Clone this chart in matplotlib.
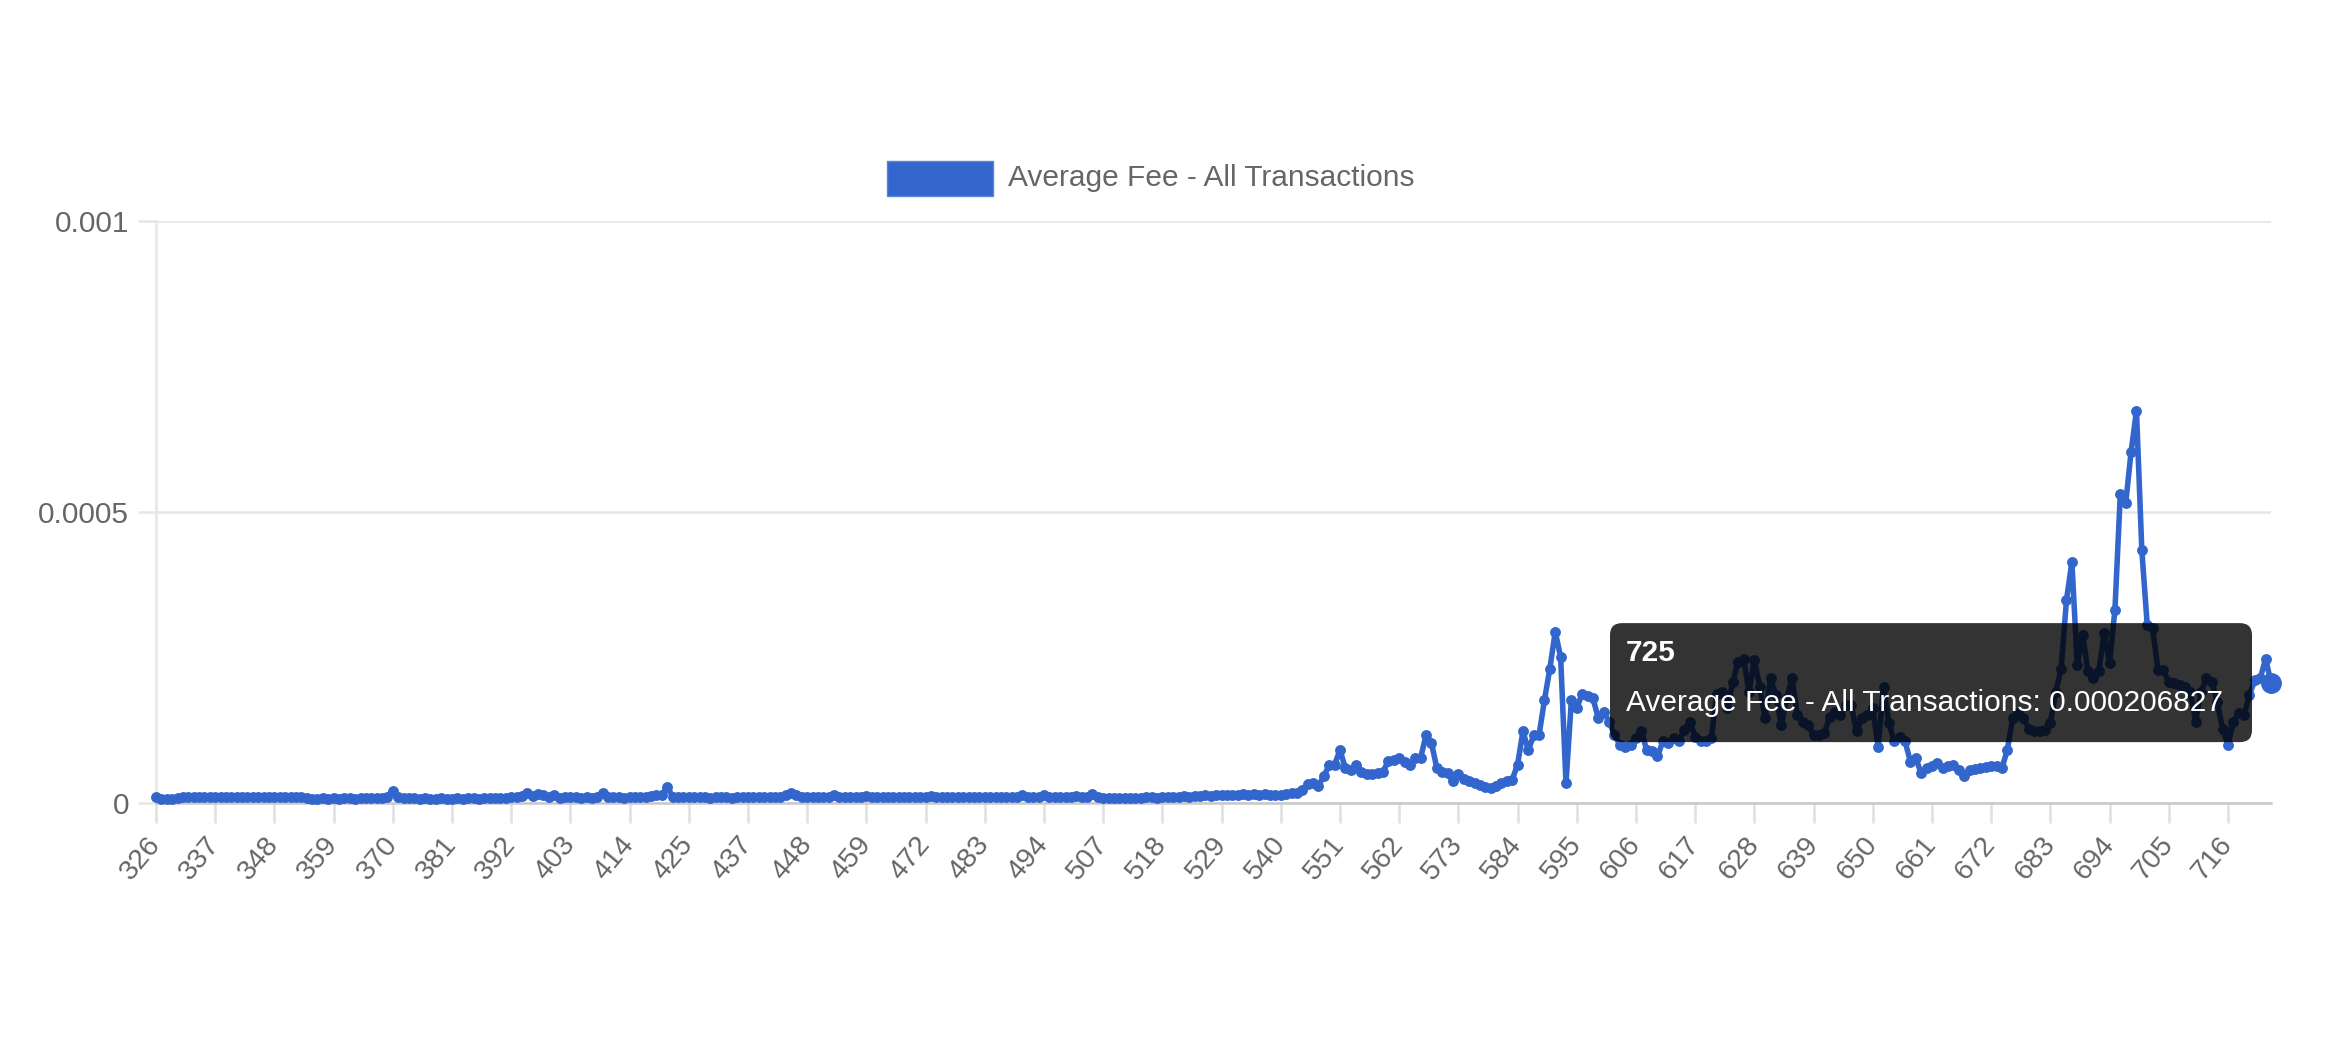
import numpy as np
import matplotlib.pyplot as plt
from matplotlib.patches import FancyBboxPatch, Rectangle
from matplotlib.transforms import IdentityTransform

plt.rcParams['font.family'] = ['Liberation Sans', 'DejaVu Sans']

# block labels (x 1000) - a few heights are absent from the series
missing = [430, 463, 468, 498, 503, 720]
blocks = [b for b in range(326, 726) if b not in missing]

# average fee, in units of 1e-6
fee_e6 = [
    11, 7, 7, 7, 8, 10, 10, 11, 10, 10, 10, 11, 10, 10, 10, 11, 10, 10, 10, 11,
    10, 10, 11, 10, 10, 11, 10, 10, 8, 7, 7, 8, 7, 8, 7, 8, 8, 7, 8, 8,
    8, 8, 9, 10, 21, 11, 9, 8, 8, 7, 8, 7, 7, 8, 7, 7, 8, 7, 8, 8,
    7, 8, 8, 8, 9, 9, 10, 11, 12, 17, 12, 15, 14, 11, 13, 9, 11, 10, 10, 9,
    10, 9, 10, 18, 10, 10, 11, 9, 10, 10, 11, 10, 12, 13, 14, 28, 11, 10, 10, 10,
    10, 10, 10, 9, 10, 10, 10, 9, 10, 10, 10, 10, 10, 10, 10, 10, 11, 14, 17, 14,
    11, 10, 10, 10, 10, 11, 14, 10, 10, 10, 10, 10, 12, 10, 10, 10, 10, 10, 10, 10,
    10, 10, 10, 11, 12, 10, 10, 10, 10, 10, 10, 10, 10, 10, 10, 10, 10, 11, 10, 10,
    11, 14, 10, 10, 11, 13, 10, 10, 10, 11, 10, 12, 10, 11, 16, 10, 9, 9, 9, 9,
    9, 9, 9, 9, 10, 10, 9, 10, 10, 10, 11, 12, 11, 12, 12, 14, 12, 13, 14, 13,
    14, 14, 15, 14, 16, 14, 15, 14, 13, 14, 15, 18, 17, 22, 33, 35, 30, 46, 65, 66,
    91, 60, 57, 65, 54, 49, 50, 51, 53, 73, 74, 77, 71, 65, 77, 78, 117, 103, 60, 54,
    51, 37, 49, 42, 37, 34, 31, 27, 26, 30, 34, 37, 40, 66, 123, 91, 116, 117, 177, 231,
    294, 251, 34, 177, 163, 188, 183, 180, 146, 157, 140, 117, 100, 97, 100, 111, 123, 91, 89, 80,
    106, 103, 111, 106, 126, 140, 114, 106, 106, 111, 188, 191, 163, 208, 243, 248, 191, 245, 200, 146,
    214, 186, 134, 180, 214, 151, 140, 134, 117, 117, 120, 148, 157, 151, 168, 168, 123, 146, 151, 163,
    97, 200, 137, 106, 114, 106, 71, 77, 51, 60, 63, 69, 60, 63, 66, 57, 46, 57, 59, 60,
    62, 63, 63, 60, 91, 146, 154, 146, 128, 123, 124, 126, 137, 191, 230, 349, 414, 237, 289, 226,
    214, 226, 292, 240, 332, 531, 515, 603, 674, 434, 306, 300, 229, 228, 208, 206, 203, 200, 191, 140,
    191, 214, 208, 174, 128, 100, 140, 154, 151, 186, 211, 214, 248, 206.827,
]
fees = np.array(fee_e6) * 1e-6
series_name = 'Average Fee - All Transactions'

blue = '#3366CC'
grey_txt = '#666666'
W, H = 2334, 1053

fig = plt.figure(figsize=(W / 100, H / 100), dpi=100)
ax = fig.add_axes([156 / W, 1 - 803 / H, (2271 - 156) / W, (803 - 221) / H])

x = np.arange(len(blocks))
ax.plot(x, fees, color=blue, lw=4, marker='o', ms=6.8, mfc=blue, mec=blue,
        zorder=3, clip_on=False)
# hovered point
ax.plot(x[-1], fees[-1], 'o', ms=14, color=blue, zorder=4, clip_on=False)

ax.set_xlim(0, len(blocks) - 1)
ax.set_ylim(0, 0.001)
ax.set_yticks([0, 0.0005, 0.001])
ax.set_yticklabels(['0', '0.0005', '0.001'])
tick_idx = x[::11]
ax.set_xticks(tick_idx)
ax.set_xticklabels([str(blocks[i]) for i in tick_idx])

ax.yaxis.grid(True, color='#e6e6e6', lw=1.8, zorder=0)
ax.set_axisbelow(True)
for s in ['top', 'right']:
    ax.spines[s].set_visible(False)
ax.spines['left'].set_color('#e6e6e6')
ax.spines['left'].set_linewidth(1.8)
ax.spines['bottom'].set_color('#c8c8c8')
ax.spines['bottom'].set_linewidth(1.8)

ax.tick_params(axis='y', length=13, width=1.8, color='#e6e6e6',
               labelcolor=grey_txt, labelsize=21.5, pad=6.5)
ax.tick_params(axis='x', length=14.5, width=1.8, color='#e0e0e0',
               labelcolor=grey_txt, labelsize=20.5, pad=12)
for lab in ax.get_xticklabels():
    lab.set_rotation(50)
    lab.set_ha('right')
    lab.set_va('center')
    lab.set_rotation_mode('anchor')

# legend
fig.add_artist(Rectangle((887, H - 196), 106, 35, transform=IdentityTransform(),
                         facecolor=blue, edgecolor='#5a85d6', lw=1))
fig.text(1008, H - 178, series_name, transform=IdentityTransform(),
         ha='left', va='center', color=grey_txt, fontsize=21.5)

# tooltip for the last point
px, py = ax.transData.transform((x[-1], fees[-1]))
bw, bh = 642, 119
left = px - 19 - bw
bottom = py - bh / 2
fig.add_artist(FancyBboxPatch((left, bottom), bw, bh,
                              boxstyle='round,pad=0,rounding_size=12',
                              transform=IdentityTransform(), facecolor='black',
                              edgecolor='none', alpha=0.8, zorder=10))
fig.text(left + 16, bottom + bh - 30, str(blocks[-1]), transform=IdentityTransform(),
         ha='left', va='center', color='white', fontsize=21.5, fontweight='bold',
         zorder=11)
fig.text(left + 16, bottom + bh - 80, f'{series_name}: {fees[-1]:.9f}',
         transform=IdentityTransform(), ha='left', va='center', color='white',
         fontsize=21.5, zorder=11)

fig.savefig('out.png', dpi=100, facecolor='white')
